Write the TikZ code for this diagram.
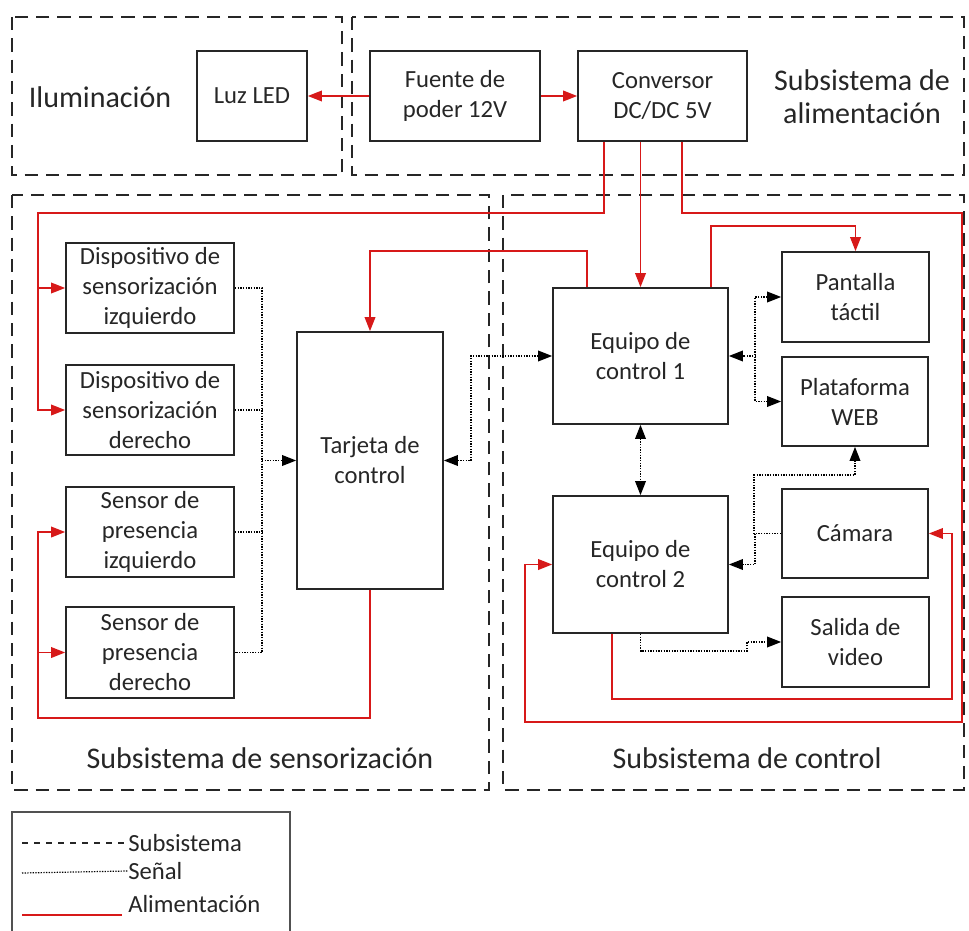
\documentclass[tikz,border=0pt]{standalone}
\usepackage{fontspec}
\setmainfont{Carlito}
\usetikzlibrary{arrows.meta}
\definecolor{ink}{RGB}{38,38,38}
\definecolor{pwr}{RGB}{215,25,25}

\begin{document}
\begin{tikzpicture}[x=0.75pt,y=-0.75pt,
        >={Triangle[length=10.5pt,width=8pt]},
        block/.style 2 args={draw=ink, line width=1.3pt, text=ink,
          minimum width=#1*0.75pt, minimum height=#2*0.75pt,
          inner sep=0pt, align=center, font=\fontsize{18.5}{22.5}\selectfont},
        title/.style={text=ink, align=center, font=\fontsize{22.5}{25}\selectfont},
        legend/.style={text=ink, anchor=west, inner sep=0pt,
          font=\fontsize{18.5}{22.5}\selectfont},
        subsys/.style={draw=ink, line width=1.5pt, dash pattern=on 10pt off 6pt},
        power/.style={draw=pwr, line width=1.1pt},
        signal/.style={draw=black, line width=1pt, dash pattern=on 1pt off 1pt}]
      \useasboundingbox (0,0) rectangle (969,930);
      \clip (0,0) rectangle (969,930);
      \draw[subsys] (12,17) rectangle (342,175);
      \draw[subsys] (352,17) rectangle (964,175);
      \draw[subsys] (12,195) rectangle (489,790);
      \draw[subsys] (503,195) rectangle (964,790);
      \node[title] (ilum) at (100,97) {Iluminación};
      \node[title] (alim) at (862,97) {Subsistema de\\alimentación};
      \node[title] (sens) at (260,758) {Subsistema de sensorización};
      \node[title] (ctrl) at (747,758) {Subsistema de control};
      \node[block={110}{90}] (led) at (252,96) {Luz LED};
      \node[block={170}{90}] (fuente) at (455,96) {Fuente de\\poder 12V};
      \node[block={169}{90}] (conv) at (662.5,96) {Conversor\\DC/DC 5V};
      \node[block={168}{90}] (dispIzq) at (150,288) {Dispositivo de\\sensorización\\izquierdo};
      \node[block={168}{90}] (dispDer) at (150,410) {Dispositivo de\\sensorización\\derecho};
      \node[block={168}{90}] (presIzq) at (150,532) {Sensor de\\presencia\\izquierdo};
      \node[block={168}{91}] (presDer) at (150,652.5) {Sensor de\\presencia\\derecho};
      \node[block={146}{257}] (tarjeta) at (370,460.5) {Tarjeta de\\control};
      \node[block={175}{136}] (eq1) at (640.5,356) {Equipo de\\control 1};
      \node[block={175}{137}] (eq2) at (640.5,564.5) {Equipo de\\control 2};
      \node[block={147}{90}] (pantalla) at (855.5,297) {Pantalla\\táctil};
      \node[block={146}{89}] (web) at (855,401.5) {Plataforma\\WEB};
      \node[block={146}{89}] (camara) at (855,533.5) {Cámara};
      \node[block={147}{90}] (salida) at (855.5,642) {Salida de\\video};
      \draw[power,->] (fuente) -- (led);
      \draw[power,->] (fuente) -- (conv);
      \draw[power,->] (conv.south -| 604,0) |- (38,213) |- (dispDer.west);
      \draw[power,->] (38,288) -- (dispIzq.west);
      \draw[power,->] (conv.south -| eq1.north) -- (eq1.north);
      \draw[power,->] (conv.south -| 682,0) |- (962,213) |- (525,722) |- (eq2.west);
      \draw[power,->] (eq1.north -| 587,0) |- (tarjeta.north |- 0,251) -- (tarjeta.north);
      \draw[power,->] (eq1.north -| 711,0) |- (pantalla.north |- 0,226) -- (pantalla.north);
      \draw[power,->] (tarjeta.south) |- (38,718) |- (presIzq.west);
      \draw[power,->] (38,652.5) -- (presDer.west);
      \draw[power,->] (eq2.south -| 612,0) |- (952,699) |- (camara.east);
      \draw[signal] (dispIzq.east) -| (262,652.5) -- (presDer.east);
      \draw[signal] (dispDer.east) -- (262,410);
      \draw[signal] (presIzq.east) -- (262,532);
      \draw[signal,->] (262,460.5) -- (tarjeta.west);
      \draw[signal,<->] (tarjeta.east) -- ++(27,0) |- (eq1.west);
      \draw[signal,<->] (pantalla.west) -- ++(-26,0) |- (web.west);
      \draw[signal,->] (eq1.east -| 756,0) -- (eq1.east);
      \draw[signal,<->] (eq1) -- (eq2);
      \draw[signal,->] (camara.west) -- ++(-27,0) |- (web.south |- 0,475) -- (web.south);
      \draw[signal,->] (755,533.5) |- (eq2.east);
      \draw[signal,->] (eq2.south) -- ++(0,17) -| (747,642) -- (salida.west);
      \draw[draw=ink!80, line width=1.1pt] (12,940) |- (290,812) -- (290,940);
      \node[legend] (lgSub) at (128,843) {Subsistema};
      \node[legend] (lgSig) at (128,871) {Señal};
      \node[legend] (lgPwr) at (128,904) {Alimentación};
      \draw[draw=ink, line width=0.8pt, dash pattern=on 4.5pt off 4.5pt] (22,843) -- (lgSub.west);
      \draw[signal, line width=0.9pt] (22,873) -- (lgSig.west);
      \draw[power, line width=2.2pt] (22,915) -- (122,915);
    \end{tikzpicture}
\end{document}
